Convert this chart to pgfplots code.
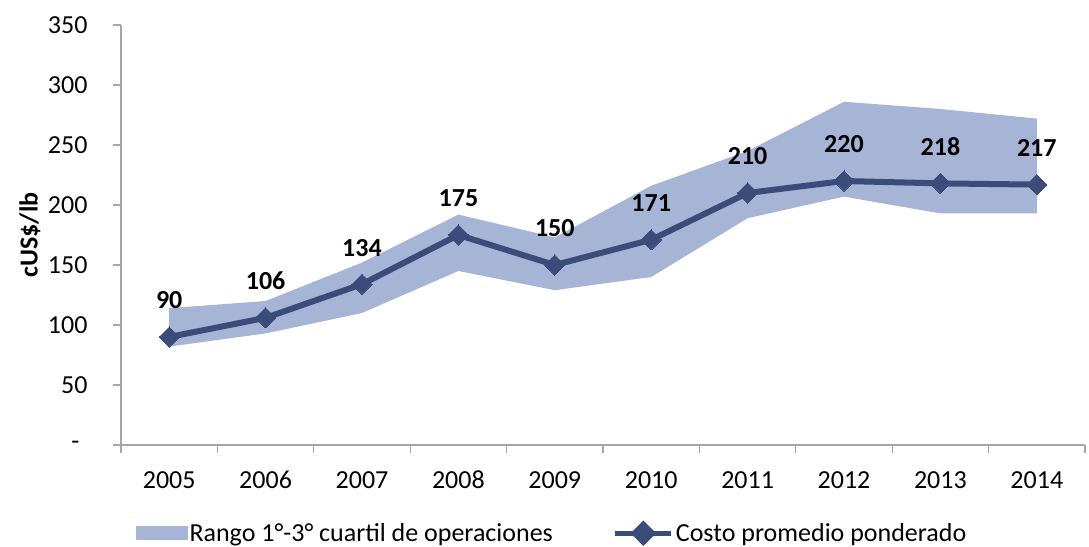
\documentclass[border=0pt]{standalone}
\usepackage{fontspec}
\setmainfont{Carlito}
\usepackage{pgfplots}
\pgfplotsset{compat=1.18}
\definecolor{band}{HTML}{A6B5D5}
\definecolor{navy}{HTML}{3A4D7A}
\definecolor{axgray}{HTML}{A6A6A6}
\newcommand{\fsz}{\fontsize{26bp}{31bp}\selectfont}
\pgfplotsset{/pgf/number format/assume math mode=true}
\begin{document}
\begin{tikzpicture}
\useasboundingbox (0,0) rectangle (1089bp,547bp);
\begin{axis}[
  at={(121bp,102bp)}, anchor=south west,
  scale only axis, width=964bp, height=420bp,
  xmin=-0.5, xmax=9.5, ymin=0, ymax=350,
  axis x line*=bottom, axis y line*=left,
  axis line style={axgray, line width=1.2bp, -},
  tick style={axgray, line width=1.2bp},
  tick align=outside,
  major tick length=8bp, minor tick length=8bp,
  xtick={0,1,2,3,4,5,6,7,8,9},
  xticklabels={2005,2006,2007,2008,2009,2010,2011,2012,2013,2014},
  major x tick style={draw=none},
  minor xtick={-0.5,0.5,1.5,2.5,3.5,4.5,5.5,6.5,7.5,8.5,9.5},
  ytick={0,50,100,150,200,250,300,350},
  yticklabels={\makebox[16bp][l]{-},50,100,150,200,250,300,350},
  tick label style={font=\fsz, black},
  xticklabel style={anchor=base, yshift=-35bp},
  yticklabel style={xshift=-22bp},
  ylabel={\bfseries cUS\$/lb},
  ylabel style={font=\fsz, at={(axis description cs:-0.0944,0.5)}, anchor=center},
  legend style={at={(0.447,-0.210)}, anchor=center, draw=none, fill=none,
    legend columns=2, font=\fsz,
    /tikz/every even column/.append style={column sep=58bp}},
  legend cell align=left,
  clip=false,
]
\addplot[fill=band, draw=none,
  legend image code/.code={\fill[band] (0bp,-7bp) rectangle (52bp,7bp);}]
  coordinates {(0,114) (1,120) (2,152) (3,192) (4,173) (5,216) (6,245) (7,286) (8,280) (9,272)
               (9,193) (8,193) (7,207) (6,189) (5,140) (4,129) (3,145) (2,110) (1,93) (0,82)} -- cycle;
\addlegendentry{Rango 1°-3° cuartil de operaciones}
\addplot[navy, line width=6bp, mark=square*, mark size=7.2bp,
  mark options={rotate=45, solid, line width=0bp},
  nodes near coords,
  nodes near coords style={font=\fsz\bfseries, black, anchor=base, yshift=28bp},
  legend image code/.code={
    \draw[navy, line width=5bp] (0bp,0bp) -- (56bp,0bp);
    \fill[navy] (28bp,8.5bp) -- (36.5bp,0bp) -- (28bp,-8.5bp) -- (19.5bp,0bp) -- cycle;}]
  coordinates {(0,90) (1,106) (2,134) (3,175) (4,150) (5,171) (6,210) (7,220) (8,218) (9,217)};
\addlegendentry{Costo promedio ponderado}
\end{axis}
\end{tikzpicture}
\end{document}
